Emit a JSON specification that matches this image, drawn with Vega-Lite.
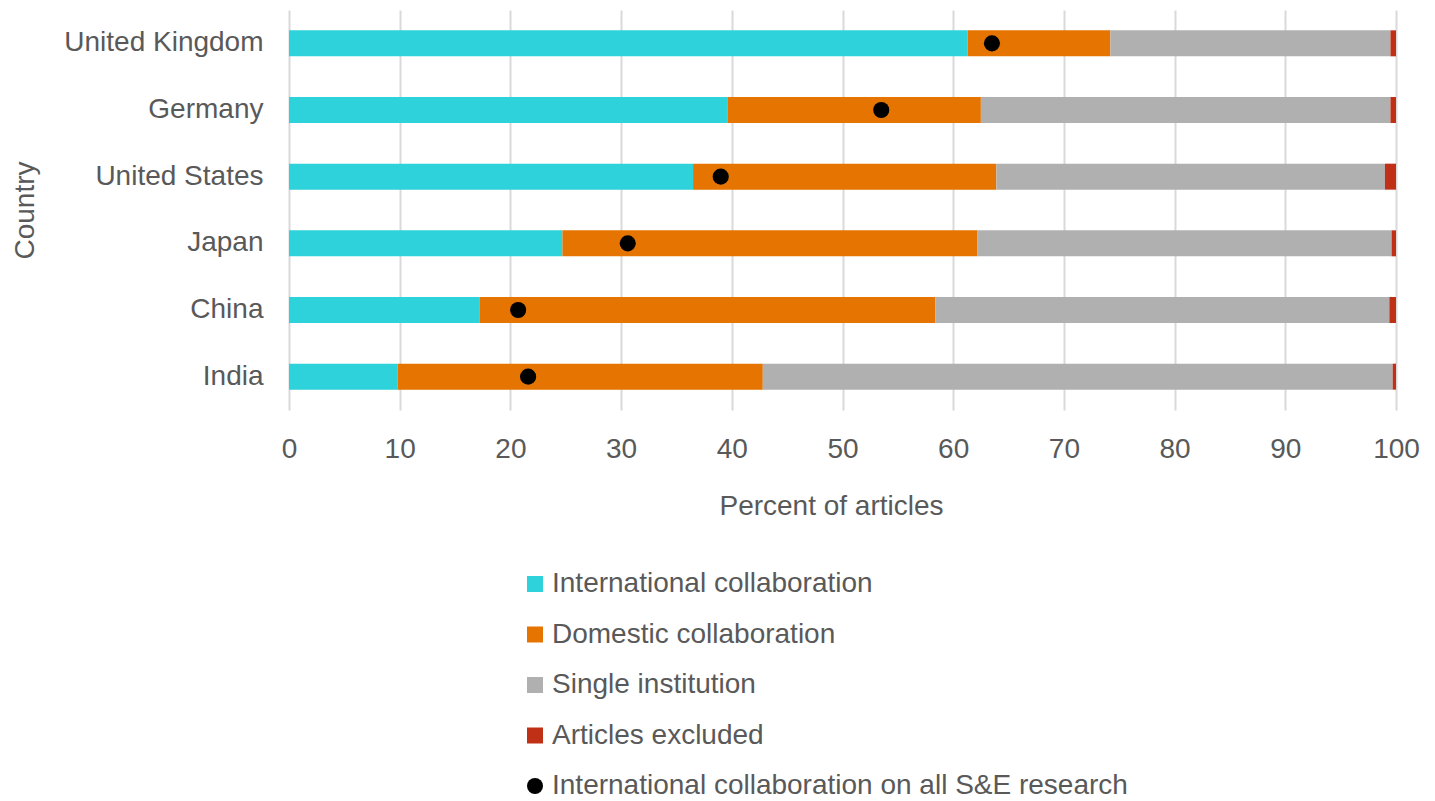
{
  "$schema": "https://vega.github.io/schema/vega-lite/v6.json",
  "width": 1107,
  "height": 400,
  "autosize": {"type": "none"},
  "padding": {"left": 289, "top": 10, "right": 39, "bottom": 391},
  "background": "white",
  "config": {
    "font": "Liberation Sans",
    "view": {"stroke": null},
    "axis": {"labelColor": "#595959", "titleColor": "#595959", "titleFontWeight": "normal", "domain": false, "ticks": false, "labelLimit": 0},
    "legend": {"labelColor": "#595959", "labelLimit": 0}
  },
  "data": {
    "values": [
      {"country": "United Kingdom", "series": "International collaboration", "value": 61.3},
      {"country": "United Kingdom", "series": "Domestic collaboration", "value": 12.9},
      {"country": "United Kingdom", "series": "Single institution", "value": 25.3},
      {"country": "United Kingdom", "series": "Articles excluded", "value": 0.5},
      {"country": "United Kingdom", "series": "International collaboration on all S&E research", "value": 63.5},
      {"country": "Germany", "series": "International collaboration", "value": 39.6},
      {"country": "Germany", "series": "Domestic collaboration", "value": 22.9},
      {"country": "Germany", "series": "Single institution", "value": 37.0},
      {"country": "Germany", "series": "Articles excluded", "value": 0.5},
      {"country": "Germany", "series": "International collaboration on all S&E research", "value": 53.5},
      {"country": "United States", "series": "International collaboration", "value": 36.5},
      {"country": "United States", "series": "Domestic collaboration", "value": 27.4},
      {"country": "United States", "series": "Single institution", "value": 35.1},
      {"country": "United States", "series": "Articles excluded", "value": 1.0},
      {"country": "United States", "series": "International collaboration on all S&E research", "value": 39.0},
      {"country": "Japan", "series": "International collaboration", "value": 24.7},
      {"country": "Japan", "series": "Domestic collaboration", "value": 37.5},
      {"country": "Japan", "series": "Single institution", "value": 37.4},
      {"country": "Japan", "series": "Articles excluded", "value": 0.4},
      {"country": "Japan", "series": "International collaboration on all S&E research", "value": 30.6},
      {"country": "China", "series": "International collaboration", "value": 17.2},
      {"country": "China", "series": "Domestic collaboration", "value": 41.2},
      {"country": "China", "series": "Single institution", "value": 41.0},
      {"country": "China", "series": "Articles excluded", "value": 0.6},
      {"country": "China", "series": "International collaboration on all S&E research", "value": 20.7},
      {"country": "India", "series": "International collaboration", "value": 9.8},
      {"country": "India", "series": "Domestic collaboration", "value": 33.0},
      {"country": "India", "series": "Single institution", "value": 56.9},
      {"country": "India", "series": "Articles excluded", "value": 0.3},
      {"country": "India", "series": "International collaboration on all S&E research", "value": 21.6}
    ]
  },
  "encoding": {
    "y": {
      "field": "country",
      "type": "nominal",
      "sort": ["United Kingdom", "Germany", "United States", "Japan", "China", "India"],
      "scale": {"paddingInner": 0.61, "paddingOuter": 0.305},
      "axis": {
        "title": "Country",
        "labelFontSize": 28,
        "labelPadding": 26,
        "titleFontSize": 28,
        "titleAngle": -90,
        "titleAlign": "center",
        "titleBaseline": "alphabetic",
        "titleX": -256,
        "titleY": 200,
        "grid": false
      }
    },
    "color": {
      "field": "series",
      "type": "nominal",
      "scale": {
        "domain": ["International collaboration", "Domestic collaboration", "Single institution", "Articles excluded", "International collaboration on all S&E research"],
        "range": ["#2ED2DB", "#E57500", "#AFB0AF", "#C03016", "#000000"]
      },
      "legend": {
        "title": null,
        "orient": "none",
        "legendX": 232,
        "legendY": 560,
        "labelFontSize": 28,
        "rowPadding": 22.5,
        "symbolSize": 256,
        "symbolStrokeWidth": 0,
        "labelOffset": 3
      }
    }
  },
  "layer": [
    {
      "transform": [
        {"filter": "datum.series !== 'International collaboration on all S&E research'"},
        {"calculate": "indexof(['International collaboration','Domestic collaboration','Single institution','Articles excluded'], datum.series)", "as": "stackorder"}
      ],
      "mark": {"type": "bar"},
      "encoding": {
        "x": {
          "field": "value",
          "type": "quantitative",
          "stack": "zero",
          "scale": {"domain": [0, 100], "nice": false},
          "axis": {
            "title": "Percent of articles",
            "values": [0, 10, 20, 30, 40, 50, 60, 70, 80, 90, 100],
            "labelFontSize": 28,
            "labelPadding": 25,
            "labelFlush": false,
            "titleFontSize": 28,
            "titleBaseline": "alphabetic",
            "titleX": 542,
            "titleY": 104,
            "grid": true,
            "gridColor": "#d9d9d9",
            "gridWidth": 2
          }
        },
        "order": {"field": "stackorder", "type": "quantitative"}
      }
    },
    {
      "transform": [
        {"filter": "datum.series === 'International collaboration on all S&E research'"}
      ],
      "mark": {"type": "point", "filled": true, "opacity": 1, "size": 260},
      "encoding": {
        "x": {"field": "value", "type": "quantitative"},
        "shape": {
          "field": "series",
          "type": "nominal",
          "scale": {
            "domain": ["International collaboration", "Domestic collaboration", "Single institution", "Articles excluded", "International collaboration on all S&E research"],
            "range": ["square", "square", "square", "square", "circle"]
          },
          "legend": {
            "title": null,
            "orient": "none",
            "legendX": 232,
            "legendY": 560,
            "labelFontSize": 28,
            "rowPadding": 22.5,
            "symbolSize": 256,
            "symbolStrokeWidth": 0,
            "labelOffset": 3
          }
        }
      }
    }
  ]
}
